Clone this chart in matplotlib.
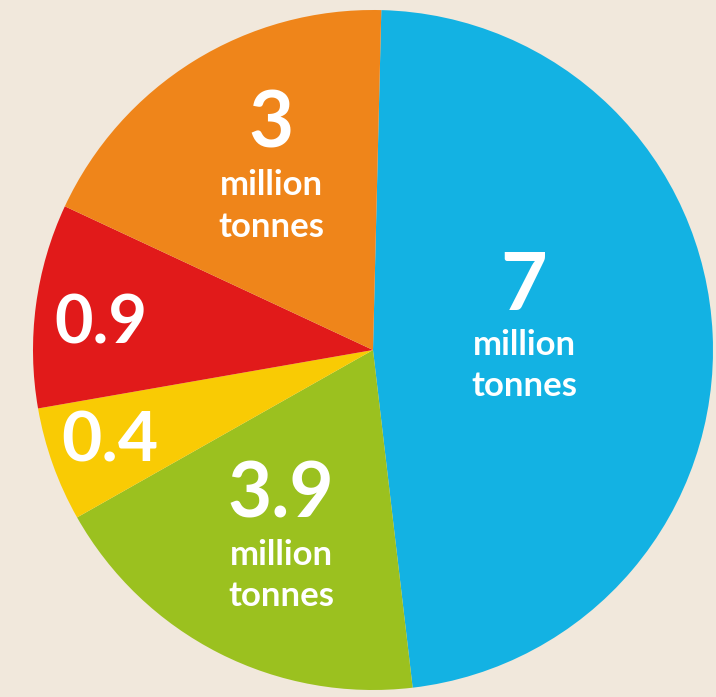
import matplotlib
matplotlib.use('Agg')
import matplotlib.pyplot as plt

# wedge sizes as drawn (degrees), clockwise from top
categories = ['a', 'b', 'c', 'd', 'e']
shares = [171.9, 67.2, 19.6, 34.9, 66.4]
colors = ['#13B2E3', '#9BC11F', '#F9CB04', '#E11A1A', '#EF851A']
values = ['7', '3.9', '0.4', '0.9', '3']
units = ['million\ntonnes', 'million\ntonnes', '', '', 'million\ntonnes']

W, H = 716, 697
bg = '#F1E8DC'
font = 'Lato'

fig = plt.figure(figsize=(W / 100, H / 100), dpi=100, facecolor=bg)
ax = fig.add_axes([0, 0, 1, 1])

ax.pie(shares, colors=colors, startangle=88.6, counterclock=False,
       center=(373, H - 350), radius=340, frame=True,
       wedgeprops=dict(linewidth=0))
ax.set_xlim(0, W)
ax.set_ylim(0, H)
ax.set_aspect('equal')
ax.axis('off')

# label positions in pixels (x, baseline of number, baselines of unit lines, number size)
pos = {
    '7':   (524, 310, [355, 396], 58),
    '3.9': (281, 518, [565, 606], 55),
    '0.4': (110, 462, [], 50),
    '0.9': (101, 343, [], 48),
    '3':   (271, 147, [195, 237], 56),
}

for v, u in zip(values, units):
    x, yb, lines, size = pos[v]
    ax.text(x, H - yb, v, ha='center', va='baseline', color='white',
            fontsize=size, fontweight='bold', family=font)
    for txt, yl in zip(u.split('\n') if u else [], lines):
        ax.text(x, H - yl, txt, ha='center', va='baseline', color='white',
                fontsize=25, fontweight='bold', family=font)

plt.savefig('out.png', dpi=100, facecolor=bg)
